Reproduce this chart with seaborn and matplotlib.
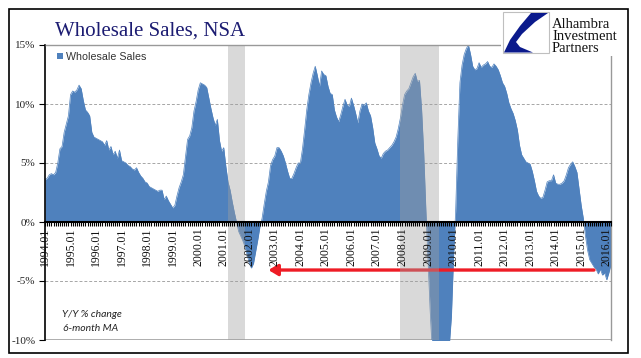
import numpy as np
import pandas as pd
import seaborn as sns
import matplotlib.pyplot as plt
from matplotlib.patches import Rectangle, Polygon

# Wholesale sales, Y/Y % change (6-month MA), monthly from 1994.01
sales_yoy = [
    3.6, 3.7, 4.0, 4.1, 4.0, 4.2, 5.0, 6.2, 6.4, 7.6, 8.3, 9.0,            # 1994
    10.8, 11.1, 11.0, 11.2, 11.6, 11.3, 10.3, 9.5, 9.3, 9.0, 7.6, 7.2,     # 1995
    7.1, 7.0, 6.9, 6.8, 6.5, 6.9, 6.1, 6.4, 5.7, 6.0, 5.4, 6.1,            # 1996
    5.2, 5.1, 5.0, 4.8, 4.7, 4.5, 4.4, 4.6, 4.2, 3.9, 3.7, 3.4,            # 1997
    3.3, 3.0, 2.9, 2.8, 2.7, 2.6, 2.7, 2.7, 1.9, 2.2, 1.8, 1.5,            # 1998
    1.2, 1.4, 2.2, 2.9, 3.4, 4.0, 5.5, 7.0, 7.3, 8.0, 9.4, 10.2,           # 1999
    11.2, 11.8, 11.7, 11.6, 11.4, 10.5, 9.6, 8.8, 8.2, 8.7, 6.9, 6.0,      # 2000
    6.3, 4.7, 3.4, 2.7, 1.7, 0.8, 0.0, -0.8, -1.2, -1.6, -2.1, -2.8,       # 2001
    -3.5, -3.9, -3.5, -2.5, -1.5, -0.4, 0.3, 1.5, 2.6, 3.4, 4.8, 5.3,      # 2002
    5.6, 6.3, 6.3, 6.0, 5.6, 5.0, 4.3, 3.7, 3.7, 4.1, 4.6, 5.0,            # 2003
    5.0, 6.2, 7.8, 9.5, 10.8, 11.8, 12.6, 13.2, 12.4, 11.5, 12.8, 12.5,    # 2004
    12.4, 11.5, 10.9, 10.8, 9.5, 8.9, 8.5, 9.1, 9.8, 10.4, 9.9, 9.8,       # 2005
    10.5, 9.9, 9.2, 8.4, 9.4, 10.0, 9.9, 10.1, 9.4, 9.0, 8.0, 6.7,         # 2006
    6.2, 5.6, 5.4, 5.8, 6.0, 6.1, 6.3, 6.5, 6.8, 7.2, 7.9, 8.8,            # 2007
    9.9, 10.8, 11.1, 11.3, 11.8, 12.3, 12.6, 11.9, 12.0, 9.5, 5.8, 1.0,    # 2008
    -3.3, -7.5, -11.0, -13.0, -14.0, -14.0, -14.0, -13.0, -12.5, -11.5, -10.5, -8.0,  # 2009
    -3.0, 1.0, 7.0, 11.8, 13.3, 14.2, 14.7, 15.0, 14.2, 13.2, 12.9, 13.0,  # 2010
    13.5, 13.1, 13.3, 13.4, 13.6, 13.2, 13.1, 13.4, 13.2, 12.9, 12.4, 11.8,  # 2011
    11.5, 10.9, 10.1, 9.6, 9.2, 8.6, 7.8, 6.5, 5.7, 5.4, 5.1, 5.0,         # 2012
    4.9, 4.3, 3.5, 2.6, 2.2, 2.0, 2.1, 2.7, 3.4, 3.5, 3.5, 4.0,            # 2013
    3.3, 3.2, 3.2, 3.3, 3.5, 4.0, 4.6, 4.9, 5.1, 4.7, 4.2, 2.8,            # 2014
    1.4, 0.3, -1.2, -2.4, -3.2, -3.5, -3.8, -4.0, -4.4, -4.0, -4.5, -4.3,  # 2015
    -4.9, -4.3, -3.6,                                                      # 2016
]

year_labels = ['1994.01', '1995.01', '1996.01', '1997.01', '1998.01', '1999.01',
               '2000.01', '2001.01', '2002.01', '2003.01', '2004.01', '2005.01',
               '2006.01', '2007.01', '2008.01', '2009.01', '2010.01', '2011.01',
               '2012.01', '2013.01', '2014.01', '2015.01', '2016.01']
y_ticks = [-10, -5, 0, 5, 10, 15]
y_labels = ['-10%', '-5%', '0%', '5%', '10%', '15%']

# recessions in months since 1994.01 (2001.03-2001.11, 2007.12-2009.06)
recessions = [(86, 94), (167, 185)]
# red arrow: from mid-2015 back to late 2002 at the -4% level
arrow_from = (258, -4.07)
arrow_to = (105, -4.07)

blue = '#4f81bd'
W, H = 641, 358

df = pd.DataFrame({'month': np.arange(len(sales_yoy)), 'yoy': sales_yoy})

sns.set_style('white')
plt.rcParams['font.family'] = ['Liberation Sans', 'DejaVu Sans']

def px(x, y):
    return x / W, 1 - y / H

fig = plt.figure(figsize=(W / 100, H / 100), dpi=100)
ax = fig.add_axes([45 / W, 1 - 340 / H, (611 - 45) / W, (340 - 45) / H])

ax.fill_between(df['month'], df['yoy'], 0, color=blue, lw=0, zorder=1,
                label='Wholesale Sales')
sns.lineplot(data=df, x='month', y='yoy', color=blue, lw=0.5, ax=ax, zorder=1)

for a, b in recessions:
    ax.axvspan(a, b, color='#a0a0a0', alpha=0.4, lw=0, zorder=1.5)

ax.annotate('', xy=arrow_to, xytext=arrow_from, zorder=1.3,
            arrowprops=dict(arrowstyle='-|>,head_length=0.5,head_width=0.3',
                            color='#ee1c25', lw=2.4, mutation_scale=11,
                            shrinkA=0, shrinkB=0))

for g in [-5, 5, 10]:
    ax.axhline(g, color='#a6a6a6', lw=0.7, ls=(0, (3, 2)), zorder=0.5)
ax.axhline(-10, color='#a0a0a0', lw=1.2, zorder=0.6)

ax.set_xlim(0, len(sales_yoy) - 1)
ax.set_ylim(-10, 15)
ax.set_xlabel('')
ax.set_ylabel('')

ax.spines['bottom'].set_position(('data', 0))
ax.spines['bottom'].set_color('black')
ax.spines['bottom'].set_linewidth(1.5)
ax.spines['left'].set_color('black')
ax.spines['left'].set_linewidth(1.2)
ax.spines['top'].set_color('#999999')
ax.spines['right'].set_color('#999999')
ax.spines['top'].set_linewidth(1)
ax.spines['right'].set_linewidth(1)

ax.set_xticks(np.arange(0, len(sales_yoy), 12))
ax.set_xticklabels(year_labels, rotation=90, family='Liberation Serif',
                   fontsize=8.5, color='#111111')
ax.set_xticks(np.arange(0, len(sales_yoy)), minor=True)
ax.tick_params(axis='x', which='both', bottom=True, direction='out', length=3,
               width=0.8, color='black', pad=1)

ax.set_yticks(y_ticks)
ax.set_yticklabels(y_labels, family='Liberation Serif', fontsize=8,
                   color='#222222')
ax.tick_params(axis='y', left=True, direction='out', length=4, width=0.8,
               color='black', pad=3)
# tick labels sit on top of the area, like the original
ax.xaxis.set_zorder(3)
ax.yaxis.set_zorder(3)

leg = ax.legend(loc='upper left', bbox_to_anchor=px(57, 52),
                bbox_transform=fig.transFigure, frameon=False, fontsize=7.7,
                handlelength=0.55, handleheight=0.55, handletextpad=0.3,
                borderpad=0, borderaxespad=0)
for t in leg.get_texts():
    t.set_color('#333333')

ax.text(0.03, 0.085, 'Y/Y % change', transform=ax.transAxes, family='Lato',
        style='italic', fontsize=7.5, color='#222222', va='center')
ax.text(0.032, 0.04, '6-month MA', transform=ax.transAxes, family='Lato',
        style='italic', fontsize=7.5, color='#222222', va='center')

fig.text(*px(55, 36), 'Wholesale Sales, NSA', family='Liberation Serif',
         fontsize=15, color='#1c1c72', va='baseline')

# logo area
fig.patches.append(Rectangle(px(501, 56), 125 / W, 45 / H, transform=fig.transFigure,
                             facecolor='white', edgecolor='none', zorder=5))
fig.patches.append(Rectangle(px(503, 53), 46 / W, 41 / H, transform=fig.transFigure,
                             facecolor='white', edgecolor='#bfbfbf', lw=0.8, zorder=6))
swoosh = [(531, 13), (548, 13), (535, 22), (522, 34), (516, 42), (520, 47),
          (533, 52.5), (504, 52.5), (510, 40), (520, 26)]
fig.patches.append(Polygon([px(x, y) for x, y in swoosh], closed=True,
                           transform=fig.transFigure, facecolor='#0b1a8c',
                           edgecolor='none', zorder=7))
for txt, yb in [('Alhambra', 28), ('Investment', 40), ('Partners', 51.5)]:
    fig.text(*px(552, yb), txt, family='Liberation Serif', fontsize=10.5,
             color='#111111', va='baseline', zorder=8)

fig.patches.append(Rectangle(px(9, 353), 619 / W, 344 / H, transform=fig.transFigure,
                             fill=False, edgecolor='black', lw=1.2, zorder=9))

fig.savefig('out.png', dpi=100)
